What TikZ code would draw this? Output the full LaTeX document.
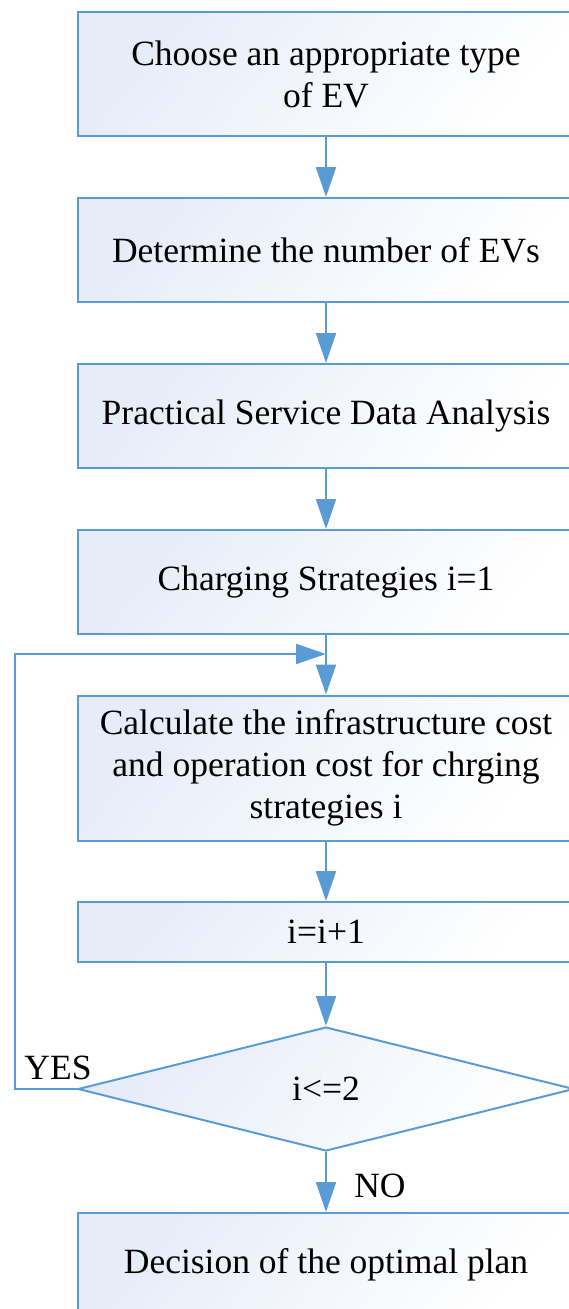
\documentclass[tikz,border=0pt]{standalone}
\usepackage{fontspec}
\setmainfont{Liberation Serif}
\newfontfamily\tnr{Liberation Serif}
\usetikzlibrary{shapes.geometric,arrows.meta}
\definecolor{edge}{RGB}{91,155,213}
\definecolor{fillA}{RGB}{230,236,248}
\tikzset{
  txt/.style={font=\tnr\fontsize{35.5}{42}\selectfont},
  stepbox/.style={draw=edge, line width=2pt, left color=fillA, right color=white, shading angle=50,
    minimum width=496pt, align=center, inner sep=0pt, txt},
  decbox/.style={diamond, draw=edge, line width=2pt, left color=fillA, right color=white, shading angle=50,
    minimum width=496pt, minimum height=124pt, aspect=4, inner sep=0pt, txt},
  conn/.style={draw=edge, line width=2pt, -{Triangle[length=30pt,width=20pt]}},
  lbl/.style={txt, inner sep=0pt}
}
\begin{document}
\begin{tikzpicture}[x=1pt,y=-1pt]
\useasboundingbox (0,0) rectangle (569,1309);
\node[stepbox, minimum height=124pt] (b1) at (326,74) {Choose an appropriate type\\of EV};
\node[stepbox, minimum height=104pt] (b2) at (326,250) {Determine the number of EVs};
\node[stepbox, minimum height=104pt] (b3) at (326,416) {Practical Service Data Analysis};
\node[stepbox, minimum height=104pt] (b4) at (326,582) {Charging Strategies i=1};
\node[stepbox, minimum height=145pt] (b5) at (326,768) {Calculate the infrastructure cost\\and operation cost for chrging\\strategies i};
\node[stepbox, minimum height=60pt] (b6) at (326,932) {i=i+1};
\node[decbox] (d1) at (326,1089) {i<=2};
\node[stepbox, minimum height=104pt] (b7) at (326,1265) {Decision of the optimal plan};
\coordinate (lp1) at (15,1089);
\coordinate (lp2) at (15,654);
\coordinate (lp3) at (326,654);
\draw[conn] (b1.south) -- (b2.north);
\draw[conn] (b2.south) -- (b3.north);
\draw[conn] (b3.south) -- (b4.north);
\draw[conn] (b4.south) -- (b5.north);
\draw[conn] (b5.south) -- (b6.north);
\draw[conn] (b6.south) -- (d1.north);
\draw[conn] (d1.south) -- (b7.north);
\draw[conn] (d1.west) -- (lp1) -- (lp2) -- (lp3);
\node[lbl] (yes) at (58,1068) {YES};
\node[lbl] (no) at (380,1186) {NO};
\end{tikzpicture}
\end{document}
